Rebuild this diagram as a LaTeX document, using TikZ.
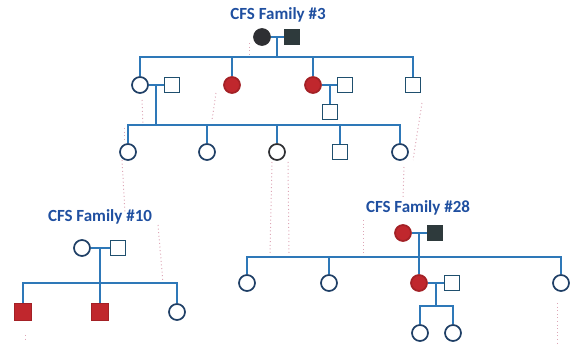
\documentclass[tikz,border=0pt]{standalone}
\usepackage{fontspec}
\setmainfont{Carlito}
\definecolor{lblue}{HTML}{2E78B8}
\definecolor{navy}{HTML}{1F3F66}
\definecolor{sqteal}{HTML}{1F4F6E}
\definecolor{cfsred}{HTML}{C0272D}
\definecolor{darkf}{HTML}{2E2F33}
\definecolor{darksq}{HTML}{2E3A3C}
\definecolor{tblue}{HTML}{1F4FA0}
\definecolor{pinkdot}{HTML}{DDA6B6}
\begin{document}
\begin{tikzpicture}[x=1pt,y=-1pt,
  line/.style={draw=lblue, line width=2pt},
  fem/.style={circle, draw=navy, line width=1.7pt, minimum size=16pt, inner sep=0pt, fill=white},
  mal/.style={rectangle, draw=sqteal, line width=1.7pt, minimum size=15pt, inner sep=0pt, fill=white},
  aff/.style={fill=cfsred, draw=cfsred!85!black},
  darkc/.style={fill=darkf, draw=darkf},
  darks/.style={fill=darksq, draw=darksq},
  title/.style={text=tblue, font=\fontsize{17}{19}\selectfont\bfseries, inner sep=0pt},
  ghost/.style={draw=pinkdot, line width=1pt, dash pattern=on 1pt off 2.6pt}]
\useasboundingbox (0,0) rectangle (570,344);

% faint dotted traces
\draw[ghost] (249,43) -- (249,55);
\draw[ghost] (142,100) -- (143,126);
\draw[ghost] (124,128) -- (124,140);
\draw[ghost] (122,160) -- (125,213);
\draw[ghost] (158,225) -- (163,283);
\draw[ghost] (216,93) -- (212,120);
\draw[ghost] (422,103) -- (413,160);
\draw[ghost] (404,167) -- (403,197);
\draw[ghost] (363,220) -- (363,253);
\draw[ghost] (272,162) -- (270,253);
\draw[ghost] (288,162) -- (289,253);
\draw[ghost] (557,303) -- (557,344);
\draw[ghost] (25,335) -- (25,342);

% ---------- Family #3 ----------
\node[title] (t3) at (278,15) {CFS Family \#3};
\node[fem,darkc] (a1) at (262,37) {};
\node[mal,darks] (a2) at (292,37) {};
\coordinate (a12) at (277,37);
\coordinate (s2) at (277,57);
\draw[line] (a1) -- (a2);
\draw[line] (a12) -- (s2);

\node[fem] (b1) at (140,85) {};
\node[mal] (b1s) at (172,85) {};
\node[fem,aff] (b2) at (232,85) {};
\node[fem,aff] (b3) at (313,85) {};
\node[mal] (b3s) at (345,85) {};
\node[mal] (b4) at (413,85) {};
\node[mal] (b3c) at (330,112) {};
\draw[line] (b1.north) -- (b1.north |- s2) -- (b4.north |- s2) -- (b4.north);
\draw[line] (b2.north) -- (b2.north |- s2);
\draw[line] (b3.north) -- (b3.north |- s2);
\draw[line] (b1) -- (b1s);
\draw[line] (b3) -- (b3s);
\coordinate (m3) at (330,85);
\draw[line] (m3) -- (b3c);
\coordinate (m1) at (156,85);
\coordinate (s3) at (156,125);
\draw[line] (m1) -- (s3);

\node[fem] (c1) at (128,152) {};
\node[fem] (c2) at (207,152) {};
\node[fem,draw=darkf] (c3) at (277,152) {};
\node[mal] (c4) at (340,152) {};
\node[fem] (c5) at (400,152) {};
\draw[line] (c1.north) -- (c1.north |- s3) -- (c5.north |- s3) -- (c5.north);
\draw[line] (c2.north) -- (c2.north |- s3);
\draw[line] (c3.north) -- (c3.north |- s3);
\draw[line] (c4.north) -- (c4.north |- s3);

% ---------- Family #10 ----------
\node[title] (t10) at (100,217) {CFS Family \#10};
\node[fem] (d1) at (82,248) {};
\node[mal] (d2) at (118,248) {};
\draw[line] (d1) -- (d2);
\coordinate (m10) at (100,248);
\coordinate (s10) at (100,283);
\draw[line] (m10) -- (s10);
\node[mal,aff,minimum size=17pt] (e1) at (23,312) {};
\node[mal,aff,minimum size=17pt] (e2) at (100,312) {};
\node[fem] (e3) at (177,312) {};
\draw[line] (e1.north) -- (e1.north |- s10) -- (e3.north |- s10) -- (e3.north);
\draw[line] (s10) -- (e2.north);

% ---------- Family #28 ----------
\node[title] (t28) at (418,208) {CFS Family \#28};
\node[fem,aff] (f1) at (403,233) {};
\node[mal,darks] (f2) at (435,233) {};
\draw[line] (f1) -- (f2);
\coordinate (m28) at (419,233);
\coordinate (s28) at (419,257);
\node[fem] (g1) at (247,283) {};
\node[fem] (g2) at (329,283) {};
\node[fem,aff] (g3) at (419,283) {};
\node[mal] (g3s) at (452,283) {};
\node[fem] (g5) at (561,283) {};
\draw[line] (m28) -- (g3.north);
\draw[line] (g1.north) -- (g1.north |- s28) -- (g5.north |- s28) -- (g5.north);
\draw[line] (g2.north) -- (g2.north |- s28);
\draw[line] (g3) -- (g3s);
\coordinate (m28b) at (436,283);
\coordinate (s28b) at (436,306);
\draw[line] (m28b) -- (s28b);
\node[fem] (h1) at (420,333) {};
\node[fem] (h2) at (453,333) {};
\draw[line] (h1.north) -- (h1.north |- s28b) -- (h2.north |- s28b) -- (h2.north);
\end{tikzpicture}
\end{document}
